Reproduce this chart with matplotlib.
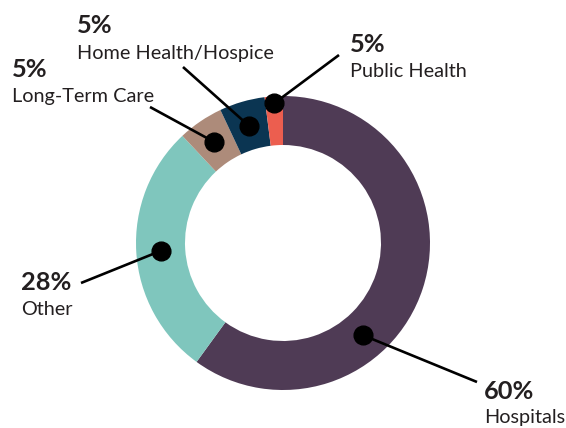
import numpy as np
import matplotlib.pyplot as plt

# data (share of the ring)
names = ['Hospitals', 'Other', 'Long-Term Care', 'Home Health/Hospice', 'Public Health']
values = [60, 28, 5, 5, 2]
pct_labels = ['60%', '28%', '5%', '5%', '5%']
colors = ['#4f3b55', '#7fc6bd', '#ad8b7a', '#0b3552', '#ec5e4f']

W, H = 566, 428
plt.rcParams['font.family'] = ['Lato', 'DejaVu Sans']

# layout, in pixels from top-left: (dot frac along wedge, dot radius, line end, text x, pct baseline, name baseline)
layout = {
    'Hospitals': (0.356, 122, (477, 382), 484, 399, 423),
    'Other': (0.5, 122, (81, 283), 21, 290, 315),
    'Long-Term Care': (0.5, 122, (150, 107), 12, 77, 102),
    'Home Health/Hospice': (0.5, 122, (183, 67), 77, 33, 59),
    'Public Health': (0.5, 140, (339, 55), 350, 52, 77),
}

fig = plt.figure(figsize=(W / 100, H / 100), dpi=100)
ax = fig.add_axes([0, 0, 1, 1])

cx, cy, R = 283, H - 243, 147
wedges, _ = ax.pie(values, colors=colors, startangle=90, counterclock=False,
                   center=(cx, cy), radius=R,
                   wedgeprops=dict(width=49, linewidth=0))
ax.set_xlim(0, W)
ax.set_ylim(0, H)
ax.set_aspect('equal')
ax.axis('off')

txt_color = '#231f20'
for w, name, pct in zip(wedges, names, pct_labels):
    f, r, end, tx, yb1, yb2 = layout[name]
    ang = np.deg2rad(w.theta1 + f * (w.theta2 - w.theta1))
    dx, dy = cx + r * np.cos(ang), cy + r * np.sin(ang)
    ax.plot([dx, end[0]], [dy, H - end[1]], color='black', lw=1.9, zorder=3,
            solid_capstyle='butt')
    ax.plot(dx, dy, 'o', color='black', ms=13.5, zorder=4)
    ax.text(tx, H - yb1, pct, fontsize=18.3, fontweight='bold', color=txt_color,
            ha='left', va='baseline')
    ax.text(tx, H - yb2, name, fontsize=14.3, color=txt_color,
            ha='left', va='baseline')

plt.savefig('out.png', dpi=100)
